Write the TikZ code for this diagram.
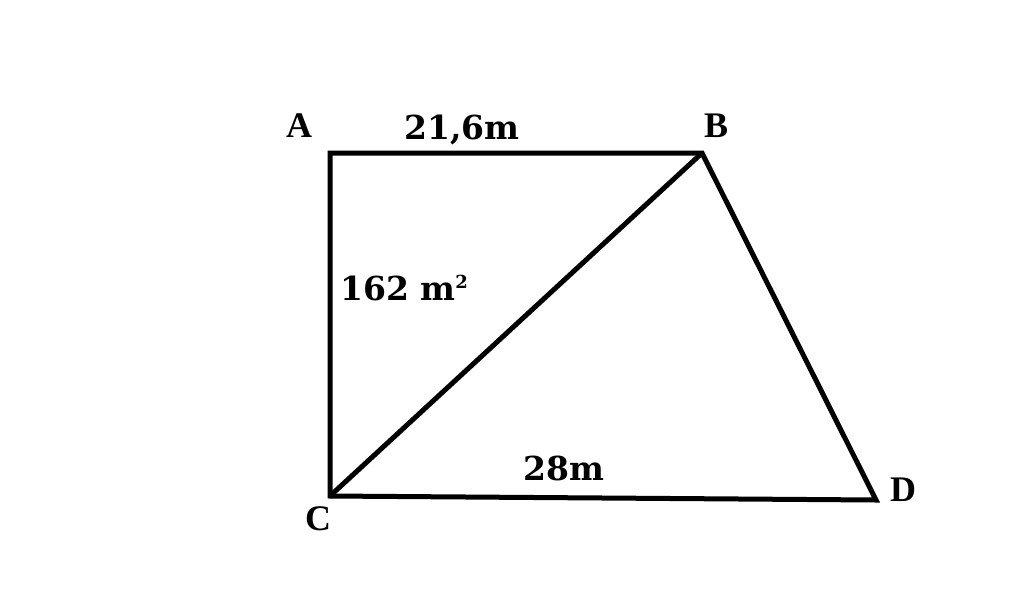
\documentclass[tikz,border=0pt]{standalone}
\usepackage{fontspec}
\setmainfont{Liberation Serif}
\newfontfamily\numfont{DejaVu Serif}
\begin{document}
\begin{tikzpicture}[x=1pt,y=-1pt,
  edge/.style={line width=5pt,line join=miter,black},
  vlabel/.style={font=\fontsize{36}{40}\selectfont\bfseries,anchor=base,inner sep=0pt},
  mlabel/.style={font=\fontsize{33}{38}\selectfont\numfont\bfseries,anchor=base,inner sep=0pt}]
\useasboundingbox[fill=white] (0,0) rectangle (1024,613);
\coordinate (A) at (330,153);
\coordinate (B) at (702,153);
\coordinate (C) at (330,496);
\coordinate (D) at (876,500);
\draw[edge] (A) -- (B) -- (D) -- (C) -- cycle;
\draw[edge] (B) -- (C);
\node[vlabel] (lA) at (299,137) {A};
\node[vlabel] (lB) at (716,137) {B};
\node[vlabel] (lC) at (318,530) {C};
\node[vlabel] (lD) at (903,501) {D};
\node[mlabel] (l1) at (462,139) {21,6m};
\node[mlabel,anchor=base west] (l2) at (340,300) {162 m\raisebox{12pt}{\fontsize{18}{20}\selectfont 2}};
\node[mlabel] (l3) at (564,480) {28m};
\end{tikzpicture}
\end{document}
